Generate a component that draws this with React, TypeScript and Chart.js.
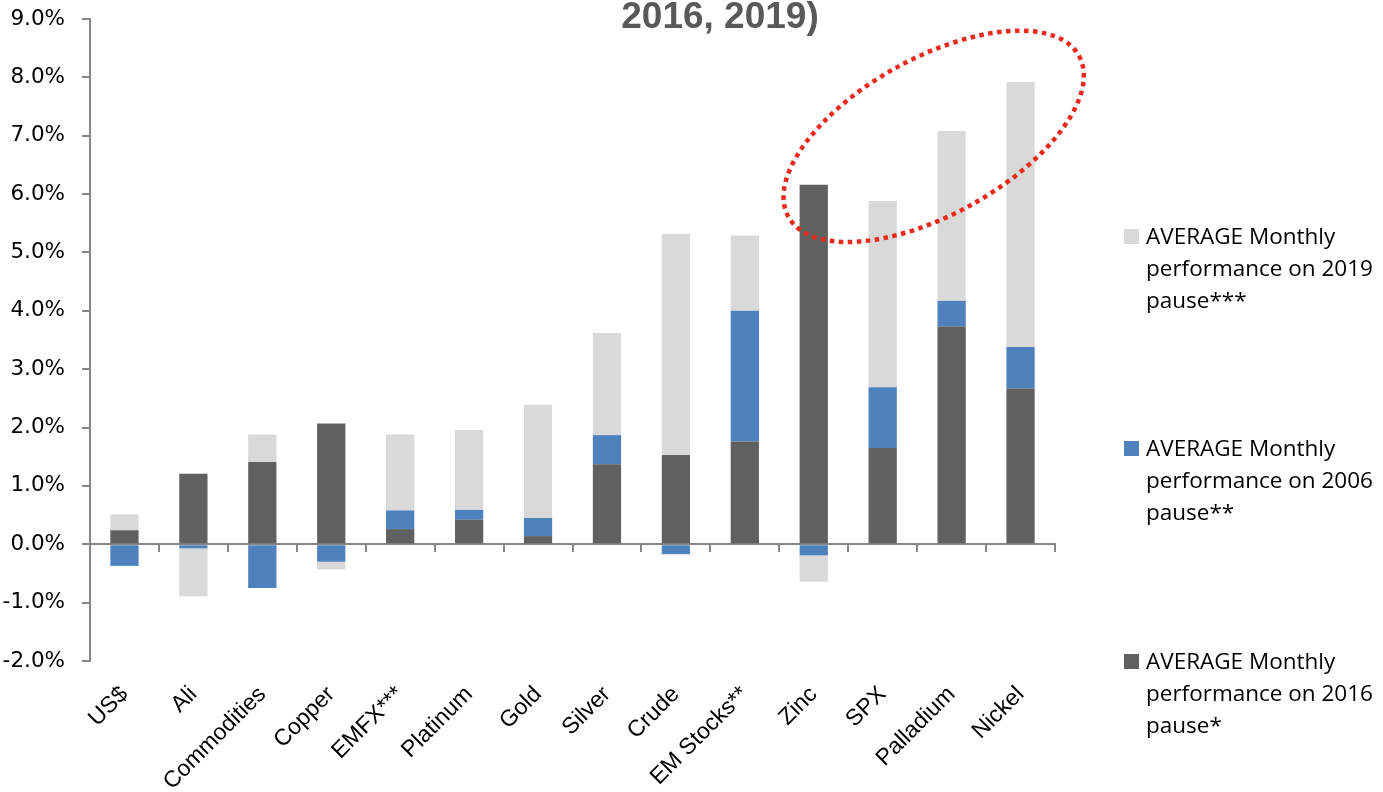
import React, { useEffect, useRef } from 'react';
import { Chart, registerables } from 'chart.js';

Chart.register(...registerables);

// ---- data ----
const categories = ['US$', 'Ali', 'Commodities', 'Copper', 'EMFX***', 'Platinum', 'Gold', 'Silver', 'Crude', 'EM Stocks**', 'Zinc', 'SPX', 'Palladium', 'Nickel'];
const pause2016 = [0.24, 1.21, 1.41, 2.07, 0.26, 0.42, 0.14, 1.37, 1.53, 1.76, 6.16, 1.65, 3.73, 2.67];
const pause2006 = [-0.37, -0.07, -0.75, -0.30, 0.32, 0.17, 0.31, 0.50, -0.17, 2.24, -0.19, 1.04, 0.44, 0.71];
const pause2019 = [0.27, -0.82, 0.47, -0.13, 1.30, 1.37, 1.94, 1.75, 3.79, 1.29, -0.45, 3.19, 2.91, 4.54];
const yMin = -2;
const yMax = 9;
const yStep = 1;
const label2019 = 'AVERAGE Monthly performance on 2019 pause***';
const label2006 = 'AVERAGE Monthly performance on 2006 pause**';
const label2016 = 'AVERAGE Monthly performance on 2016 pause*';
const titleText = '2016, 2019)';

const colors = { c2016: '#606060', c2006: '#4f81bd', c2019: '#d9d9d9' };
const axisGray = '#868686';

const highlightPlugin = {
  id: 'highlightEllipse',
  afterDraw(chart: any) {
    const xs = chart.scales.x;
    const ys = chart.scales.y;
    const ctx = chart.ctx;
    const cx = xs.getPixelForValue(11.74);
    const cy = ys.getPixelForValue(6.99);
    const step = xs.getPixelForValue(1) - xs.getPixelForValue(0);
    const rx = step * 2.41;
    const ry = ys.getPixelForValue(0) - ys.getPixelForValue(1.34);
    ctx.save();
    ctx.strokeStyle = '#e8291c';
    ctx.lineWidth = 4.5;
    ctx.setLineDash([4.5, 4.5]);
    ctx.beginPath();
    ctx.ellipse(cx, cy, rx, ry, (-29 * Math.PI) / 180, 0, Math.PI * 2);
    ctx.stroke();
    ctx.restore();
  },
};

function ChartCanvas() {
  const ref = useRef<HTMLCanvasElement | null>(null);
  useEffect(() => {
    if (!ref.current) return;
    const chart = new Chart(ref.current, {
      type: 'bar',
      data: {
        labels: categories,
        datasets: [
          { label: label2016, data: pause2016, backgroundColor: colors.c2016, categoryPercentage: 0.41, barPercentage: 1 },
          { label: label2006, data: pause2006, backgroundColor: colors.c2006, categoryPercentage: 0.41, barPercentage: 1 },
          { label: label2019, data: pause2019, backgroundColor: colors.c2019, categoryPercentage: 0.41, barPercentage: 1 },
        ],
      },
      options: {
        animation: false,
        responsive: false,
        maintainAspectRatio: false,
        layout: { padding: { top: 19, right: 328, bottom: 0, left: 0 } },
        plugins: {
          legend: { display: false },
          tooltip: { enabled: false },
          title: { display: false },
        },
        scales: {
          x: {
            stacked: true,
            position: 'bottom',
            offset: true,
            border: { display: false },
            grid: { display: false, offset: true },
            ticks: {
              autoSkip: false,
              minRotation: 45,
              maxRotation: 45,
              padding: 12,
              color: '#000000',
              font: { family: '"Liberation Sans", Arial, sans-serif', size: 23 },
            },
            afterFit: (s: any) => { s.height = 131; },
          },
          x2: {
            type: 'category',
            labels: categories,
            position: { y: 0 } as any,
            offset: true,
            border: { display: true, color: axisGray, width: 2 },
            grid: { display: true, offset: true, drawOnChartArea: false, drawTicks: true, tickLength: 7, color: axisGray, lineWidth: 2 },
            ticks: { display: false },
          },
          y: {
            stacked: true,
            min: yMin,
            max: yMax,
            border: { display: true, color: axisGray, width: 2 },
            grid: { display: true, drawOnChartArea: false, drawTicks: true, tickLength: 8, color: axisGray, lineWidth: 2 },
            ticks: {
              stepSize: yStep,
              padding: 17,
              color: '#000000',
              font: { family: '"DejaVu Sans", sans-serif', size: 21.5 },
              callback: (v: any) => Number(v).toFixed(1) + '%',
            },
            afterFit: (s: any) => {
              s.width = 90;
              s.paddingTop = 0;
              s.paddingBottom = 0;
            },
          },
        },
      },
      plugins: [highlightPlugin],
    });
    return () => chart.destroy();
  }, []);
  return <canvas ref={ref} width={1383} height={792} style={{ position: 'absolute', left: 0, top: 0, width: 1383, height: 792 }} />;
}

const legendItems = [
  { label: label2019, color: colors.c2019, top: 220 },
  { label: label2006, color: colors.c2006, top: 432 },
  { label: label2016, color: colors.c2016, top: 645 },
];

export default function App() {
  return (
    <div style={{ position: 'absolute', left: 0, top: 0, width: 1383, height: 792, background: '#ffffff', overflow: 'hidden' }}>
      <ChartCanvas />
      <div
        style={{
          position: 'absolute',
          left: 520,
          width: 400,
          top: -6,
          textAlign: 'center',
          fontFamily: '"Liberation Sans", Arial, sans-serif',
          fontWeight: 'bold',
          fontSize: 37,
          color: '#595959',
          lineHeight: '44px',
        }}
      >
        {titleText}
      </div>
      {legendItems.map((it) => (
        <div key={it.label} style={{ position: 'absolute', left: 1124, top: it.top, width: 259 }}>
          <div style={{ position: 'absolute', left: 0, top: 9, width: 15, height: 15, background: it.color }} />
          <div
            style={{
              position: 'absolute',
              left: 22,
              top: 0,
              width: 240,
              fontFamily: '"Open Sans", sans-serif',
              fontSize: 22.5,
              lineHeight: '32px',
              color: '#000000',
            }}
          >
            {it.label}
          </div>
        </div>
      ))}
    </div>
  );
}
